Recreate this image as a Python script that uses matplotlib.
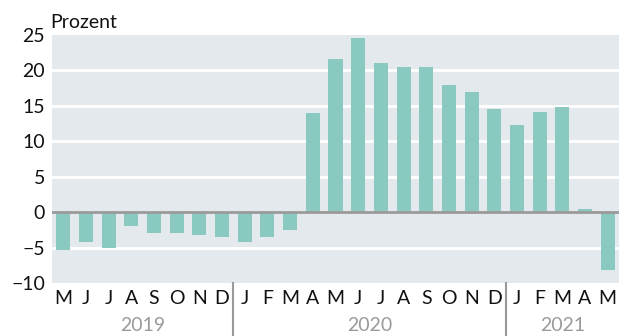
import matplotlib
matplotlib.use("Agg")
import matplotlib.pyplot as plt
import numpy as np

months = ["M", "J", "J", "A", "S", "O", "N", "D",
          "J", "F", "M", "A", "M", "J", "J", "A", "S", "O", "N", "D",
          "J", "F", "M", "A", "M"]
values = [-5.3, -4.2, -5.0, -1.9, -3.0, -3.0, -3.2, -3.5,
          -4.2, -3.5, -2.5, 14.0, 21.6, 24.6, 21.0, 20.5, 20.5, 17.9, 16.9, 14.5,
          12.3, 14.2, 14.9, 0.4, -8.1]
years = ["2019", "2020", "2021"]
year_counts = [8, 12, 5]
yticks = [-10, -5, 0, 5, 10, 15, 20, 25]

plt.rcParams['font.family'] = ['Lato', 'DejaVu Sans']
FS = 14

fig = plt.figure(figsize=(6.3, 3.36), dpi=100)
W, H = 630, 336
ax = fig.add_axes([52 / W, 1 - 283 / H, (619 - 52) / W, (283 - 35) / H])
ax.set_facecolor('#e4e9ed')
x = np.arange(len(values))
ax.set_xlim(-0.5, len(values) - 0.5)
ax.set_ylim(-10, 25)
for t in yticks:
    if t not in (0, -10, 25):
        ax.axhline(t, color='white', lw=2, zorder=1)
ax.bar(x, values, width=0.62, color='#8ac9bf', zorder=2)
ax.axhline(0, color='#9a9a9a', lw=2, zorder=3)

for s in ax.spines.values():
    s.set_visible(False)
ax.set_yticks(yticks)
ax.set_yticklabels(["\u221210", "\u22125", "0", "5", "10", "15", "20", "25"])
ax.tick_params(axis='y', length=0, pad=5, labelsize=FS, colors='#111111')
ax.set_xticks(x)
ax.set_xticklabels(months)
ax.tick_params(axis='x', length=0, pad=5, labelsize=FS, colors='#111111')

# year separators and labels
start = 0
for i, (yr, c) in enumerate(zip(years, year_counts)):
    center = start + (c - 1) / 2
    ax.text(center, -0.172, yr, transform=ax.get_xaxis_transform(),
            ha='center', va='center', fontsize=FS, color='#9a9a9a')
    if i < len(years) - 1:
        ax.plot([start + c - 0.5] * 2, [0, -0.22], transform=ax.get_xaxis_transform(),
                color='#9a9a9a', lw=1.5, clip_on=False)
    start += c

fig.text(50 / W, 1 - 22 / H, "Prozent", ha='left', va='center', fontsize=FS, color='#111111')

fig.savefig("out.png", dpi=100)
